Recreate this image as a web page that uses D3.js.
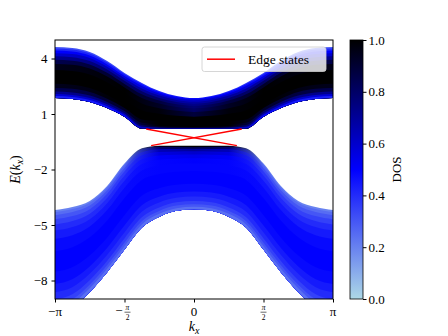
<!DOCTYPE html>
<html>
<head>
<meta charset="utf-8">
<script src="https://cdn.jsdelivr.net/npm/d3@7"></script>
<style>
  body { margin: 0; background: #fff; }
  text { font-family: "Liberation Serif", "DejaVu Serif", serif; fill: #000; }
</style>
</head>
<body>
<div id="chart"></div>
<script>
// band edges sampled every pi/8 (kx in units of pi)
var kxOverPi = [-1, -0.875, -0.75, -0.625, -0.5, -0.375, -0.25, -0.125, 0,
  0.125, 0.25, 0.375, 0.5, 0.625, 0.75, 0.875, 1];
var upperTop = [4.62, 4.57, 4.35, 3.86, 3.22, 2.68, 2.24, 1.97, 1.86,
  1.97, 2.24, 2.68, 3.22, 3.86, 4.35, 4.57, 4.62];
var upperBottom = [1.86, 1.81, 1.65, 1.32, 0.85, 0.21, 0.19, 0.19, 0.19,
  0.19, 0.19, 0.21, 0.85, 1.32, 1.65, 1.81, 1.86];
var lowerTop = [-4.19, -4.03, -3.70, -2.89, -1.68, -0.85, -0.71, -0.71, -0.71,
  -0.71, -0.71, -0.85, -1.68, -2.89, -3.70, -4.03, -4.19];
var lowerBottom = [-9.75, -9.45, -8.62, -7.55, -6.33, -5.14, -4.55, -4.23, -4.15,
  -4.23, -4.55, -5.14, -6.33, -7.55, -8.62, -9.45, -9.75];

// DOS across each band (rows: top edge -> bottom edge, cols: kx every pi/4)
var dosCols = [-1, -0.75, -0.5, -0.25, 0, 0.25, 0.5, 0.75, 1];
var upperBreaks = [0, 0.03, 0.07, 0.12, 0.18, 0.25, 0.33, 0.45, 0.6, 0.72, 0.8, 0.87, 0.92, 0.96, 1];
var upperDos = [
  [0.30, 0.32, 0.35, 0.42, 0.48, 0.42, 0.35, 0.32, 0.30],
  [0.40, 0.42, 0.45, 0.50, 0.55, 0.50, 0.45, 0.42, 0.40],
  [0.50, 0.52, 0.55, 0.60, 0.62, 0.60, 0.55, 0.52, 0.50],
  [0.60, 0.63, 0.68, 0.70, 0.68, 0.70, 0.68, 0.63, 0.60],
  [0.72, 0.75, 0.80, 0.80, 0.73, 0.80, 0.80, 0.75, 0.72],
  [0.85, 0.88, 0.92, 0.88, 0.77, 0.88, 0.92, 0.88, 0.85],
  [0.95, 0.97, 1.00, 0.93, 0.80, 0.93, 1.00, 0.97, 0.95],
  [1.00, 1.00, 1.00, 0.98, 0.88, 0.98, 1.00, 1.00, 1.00],
  [1.00, 1.00, 1.00, 1.00, 1.00, 1.00, 1.00, 1.00, 1.00],
  [0.95, 0.96, 1.00, 1.00, 1.00, 1.00, 1.00, 0.96, 0.95],
  [0.85, 0.87, 0.92, 1.00, 1.00, 1.00, 0.92, 0.87, 0.85],
  [0.72, 0.74, 0.80, 1.00, 1.00, 1.00, 0.80, 0.74, 0.72],
  [0.58, 0.60, 0.65, 0.95, 1.00, 0.95, 0.65, 0.60, 0.58],
  [0.42, 0.44, 0.48, 0.70, 0.70, 0.70, 0.48, 0.44, 0.42]
];
var lowerBreaks = [0, 0.02, 0.05, 0.09, 0.14, 0.2, 0.28, 0.4, 0.6, 0.72, 0.8, 0.87, 0.92, 0.96, 1];
var lowerDos = [
  [0.20, 0.20, 0.22, 0.95, 1.00, 0.95, 0.22, 0.20, 0.20],
  [0.25, 0.25, 0.27, 0.78, 0.85, 0.78, 0.27, 0.25, 0.25],
  [0.30, 0.30, 0.32, 0.64, 0.70, 0.64, 0.32, 0.30, 0.30],
  [0.35, 0.35, 0.37, 0.56, 0.60, 0.56, 0.37, 0.35, 0.35],
  [0.40, 0.40, 0.41, 0.51, 0.54, 0.51, 0.41, 0.40, 0.40],
  [0.44, 0.44, 0.45, 0.49, 0.50, 0.49, 0.45, 0.44, 0.44],
  [0.48, 0.48, 0.48, 0.49, 0.49, 0.49, 0.48, 0.48, 0.48],
  [0.50, 0.50, 0.50, 0.50, 0.50, 0.50, 0.50, 0.50, 0.50],
  [0.48, 0.48, 0.48, 0.48, 0.48, 0.48, 0.48, 0.48, 0.48],
  [0.44, 0.44, 0.44, 0.44, 0.44, 0.44, 0.44, 0.44, 0.44],
  [0.40, 0.40, 0.40, 0.40, 0.40, 0.40, 0.40, 0.40, 0.40],
  [0.35, 0.35, 0.35, 0.35, 0.35, 0.35, 0.35, 0.35, 0.35],
  [0.30, 0.30, 0.30, 0.30, 0.30, 0.30, 0.30, 0.30, 0.30],
  [0.24, 0.24, 0.24, 0.24, 0.24, 0.24, 0.24, 0.24, 0.24]
];

// edge states (kx in rad, E)
var edgeK = [[-1.08, 0.97], [-0.97, 1.08]];
var edgeE = [[0.19, -0.71], [-0.71, 0.19]];

var yTicks = [4, 1, -2, -5, -8];
var cbTicks = [0, 0.2, 0.4, 0.6, 0.8, 1.0];

var svgWidth = 448;
var svgHeight = 336;
var margin = { top: 40, right: 115, bottom: 37, left: 55 };
var width = svgWidth - margin.left - margin.right;
var height = svgHeight - margin.top - margin.bottom;
var serif = "'Liberation Serif', 'DejaVu Serif', serif";

var svg = d3.select("#chart").append("svg")
  .attr("width", svgWidth)
  .attr("height", svgHeight);
var defs = svg.append("defs");

var chartGroup = svg.append("g")
  .attr("transform", `translate(${margin.left}, ${margin.top})`);

var x = d3.scaleLinear().domain([-Math.PI, Math.PI]).range([0, width]);
var y = d3.scaleLinear().domain([-9, 5]).range([height, 0]);
var cmap = d3.scaleLinear().domain([0, 0.5, 1]).range(["lightblue", "blue", "black"]);

var kx = kxOverPi.map(d => d * Math.PI);

defs.append("clipPath").attr("id", "plotClip")
  .append("rect").attr("width", width).attr("height", height);

var plot = chartGroup.append("g").attr("clip-path", "url(#plotClip)");

// each layer runs from its break down to the bottom edge, later layers on top
function drawBand(name, top, bottom, breaks, dos) {
  breaks.slice(0, -1).forEach(function(t, j) {
    var grad = defs.append("linearGradient")
      .attr("id", name + j)
      .attr("gradientUnits", "userSpaceOnUse")
      .attr("x1", x(-Math.PI)).attr("x2", x(Math.PI))
      .attr("y1", 0).attr("y2", 0);
    dosCols.forEach(function(c, i) {
      grad.append("stop")
        .attr("offset", (c + 1) / 2)
        .attr("stop-color", cmap(dos[j][i]));
    });
    var area = d3.area()
      .x((d, i) => x(kx[i]))
      .y0((d, i) => y(top[i] + t * (bottom[i] - top[i])))
      .y1((d, i) => y(bottom[i]))
      .curve(d3.curveMonotoneX);
    plot.append("path")
      .datum(kx)
      .attr("d", area)
      .attr("fill", `url(#${name}${j})`);
  });
}

drawBand("upper", upperTop, upperBottom, upperBreaks, upperDos);
drawBand("lower", lowerTop, lowerBottom, lowerBreaks, lowerDos);

// edge states
var line = d3.line().x(d => x(d[0])).y(d => y(d[1]));
edgeK.forEach(function(ks, i) {
  plot.append("path")
    .datum(ks.map((k, j) => [k, edgeE[i][j]]))
    .attr("d", line)
    .attr("fill", "none")
    .attr("stroke", "red")
    .attr("stroke-width", 1.5);
});

// y axis
var leftAxis = d3.axisLeft(y).tickValues(yTicks).tickSize(3.5).tickPadding(4);
var yAxis = chartGroup.append("g")
  .call(leftAxis)
  .attr("font-family", serif)
  .attr("font-size", 13);
yAxis.select(".domain").remove();

// x axis ticks
var xTickVals = [-Math.PI, -Math.PI / 2, 0, Math.PI / 2, Math.PI];
var bottomAxis = d3.axisBottom(x).tickValues(xTickVals).tickSize(3.5).tickFormat("");
var xAxis = chartGroup.append("g")
  .attr("transform", `translate(0, ${height})`)
  .call(bottomAxis);
xAxis.select(".domain").remove();

// x tick labels with stacked fractions
var xLabels = ["−π", "−frac", "0", "frac", "π"];
xTickVals.forEach(function(v, i) {
  var g = chartGroup.append("g").attr("transform", `translate(${x(v)}, ${height})`);
  if (xLabels[i] === "frac" || xLabels[i] === "−frac") {
    var dx = 0;
    if (xLabels[i] === "−frac") {
      g.append("text").attr("x", -2).attr("y", 15.5)
        .attr("text-anchor", "end").style("font-size", "13px").text("−");
      dx = 3;
    }
    g.append("text").attr("x", dx).attr("y", 11).attr("text-anchor", "middle")
      .style("font-size", "7.5px").style("font-style", "italic").text("π");
    g.append("line").attr("x1", dx - 3).attr("x2", dx + 3)
      .attr("y1", 13.2).attr("y2", 13.2).attr("stroke", "#000").attr("stroke-width", 0.6);
    g.append("text").attr("x", dx).attr("y", 20.5).attr("text-anchor", "middle")
      .style("font-size", "7.5px").text("2");
  } else {
    g.append("text").attr("y", 17).attr("text-anchor", "middle")
      .style("font-size", "13px").text(xLabels[i]);
  }
});

// spines
chartGroup.append("rect")
  .attr("width", width).attr("height", height)
  .attr("fill", "none").attr("stroke", "#000").attr("stroke-width", 1);

// axis labels
var xl = svg.append("text")
  .attr("x", margin.left + width / 2).attr("y", 331)
  .attr("text-anchor", "middle").style("font-size", "14px");
xl.append("tspan").style("font-style", "italic").text("k");
xl.append("tspan").attr("dy", 3).style("font-size", "10px").style("font-style", "italic").text("x");

var yl = svg.append("text")
  .attr("transform", `translate(20, ${margin.top + height / 2}) rotate(-90)`)
  .attr("text-anchor", "middle").style("font-size", "14px");
yl.append("tspan").style("font-style", "italic").text("E");
yl.append("tspan").text("(");
yl.append("tspan").style("font-style", "italic").text("k");
yl.append("tspan").attr("dy", 3).style("font-size", "10px").style("font-style", "italic").text("x");
yl.append("tspan").attr("dy", -3).text(")");

// legend
var legend = chartGroup.append("g").attr("transform", `translate(${width - 131}, 7)`);
legend.append("rect")
  .attr("width", 124).attr("height", 24.5).attr("rx", 2.5)
  .attr("fill", "#fff").attr("fill-opacity", 0.8)
  .attr("stroke", "#ccc").attr("stroke-width", 0.8);
legend.append("line")
  .attr("x1", 5).attr("x2", 33).attr("y1", 12.2).attr("y2", 12.2)
  .attr("stroke", "red").attr("stroke-width", 1.5);
legend.append("text").attr("x", 46).attr("y", 16.5)
  .style("font-size", "13.5px").text("Edge states");

// colorbar
var cbX = 350, cbW = 13;
var cbGrad = defs.append("linearGradient").attr("id", "cbGrad")
  .attr("x1", 0).attr("x2", 0).attr("y1", 1).attr("y2", 0);
[0, 0.5, 1].forEach(function(v) {
  cbGrad.append("stop").attr("offset", v).attr("stop-color", cmap(v));
});
svg.append("rect")
  .attr("x", cbX).attr("y", margin.top).attr("width", cbW).attr("height", height)
  .attr("fill", "url(#cbGrad)").attr("stroke", "#000").attr("stroke-width", 0.8);

var cbScale = d3.scaleLinear().domain([0, 1]).range([margin.top + height, margin.top]);
var cbAxis = svg.append("g")
  .attr("transform", `translate(${cbX + cbW}, 0)`)
  .call(d3.axisRight(cbScale).tickValues(cbTicks).tickSize(3.5).tickPadding(2).tickFormat(d3.format(".1f")))
  .attr("font-family", serif)
  .attr("font-size", 13);
cbAxis.select(".domain").remove();

svg.append("text")
  .attr("transform", `translate(401, ${margin.top + height / 2}) rotate(-90)`)
  .attr("text-anchor", "middle").style("font-size", "13px").text("DOS");
</script>
</body>
</html>
